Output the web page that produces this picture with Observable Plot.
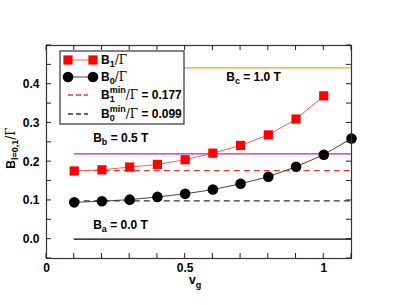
<!DOCTYPE html>
<html><head><meta charset="utf-8">
<script src="https://cdn.jsdelivr.net/npm/d3@7"></script>
<script src="https://cdn.jsdelivr.net/npm/@observablehq/plot@0.6"></script>
<style>body{margin:0;background:#fff}svg{font-family:"Liberation Sans",Arial,sans-serif}</style>
</head><body><div id="chart"></div>
<script>
const vg1 = [0.1,0.2,0.3,0.4,0.5,0.6,0.7,0.8,0.9,1.0];
const b1 = [0.176,0.179,0.186,0.193,0.205,0.222,0.242,0.269,0.310,0.370];
const vg0 = [0.1,0.2,0.3,0.4,0.5,0.6,0.7,0.8,0.9,1.0,1.1];
const b0 = [0.095,0.098,0.102,0.109,0.117,0.128,0.143,0.161,0.187,0.218,0.260];
const fieldNames = ["a","b","c"];
const fieldLabels = ["0.0 T","0.5 T","1.0 T"];
const fieldLevels = [0.0,0.220,0.442];
const fieldColors = ["#000000","#b020e8","#f5a623"];
const fieldLabelX = [0.17,0.17,0.65];
const fieldLabelY = [0.026,0.249,0.407];
const minLevels = [0.177,0.099];
const minColors = ["#ff3030","#333333"];
const lineStart = 0.1, lineEnd = 1.1;
const xTicks = [0,0.5,1];
const yTicks = [0,0.1,0.2,0.3,0.4];

const d1 = vg1.map((x,i)=>({x,y:b1[i]}));
const d0 = vg0.map((x,i)=>({x,y:b0[i]}));
const fields = fieldNames.map((n,i)=>({n,label:fieldLabels[i],y:fieldLevels[i],c:fieldColors[i],lx:fieldLabelX[i],ly:fieldLabelY[i]}));
const mins = minLevels.map((y,i)=>({y,c:minColors[i]}));

const W = 395, H = 305, mL = 46, mR = 44, mT = 45, mB = 47;
const xDom = [0,1.1], yDom = [-0.05,0.5];
const minorX = d3.range(0,1.1001,0.1);
const minorY = d3.range(-0.05,0.5001,0.05);
const T = 5;

const chart = Plot.plot({
  width:W, height:H,
  marginLeft:mL, marginRight:mR, marginTop:mT, marginBottom:mB,
  x:{domain:xDom}, y:{domain:yDom},
  style:{fontFamily:"Liberation Sans, Arial, sans-serif"},
  marks:[
    Plot.ruleY(fields,{y:"y",x1:lineStart,x2:lineEnd,stroke:"c",strokeWidth:1.3}),
    Plot.ruleY(mins,{y:"y",x1:lineStart,x2:lineEnd,stroke:"c",strokeWidth:1.3,strokeDasharray:"6,4"}),
    Plot.line(d1,{x:"x",y:"y",stroke:"#ff5a5a",strokeWidth:1}),
    Plot.dot(d1,{x:"x",y:"y",symbol:"square",r:5.2,fill:"#ff0000",stroke:"none"}),
    Plot.line(d0,{x:"x",y:"y",stroke:"#444",strokeWidth:1}),
    Plot.dot(d0,{x:"x",y:"y",r:5.3,fill:"#000",stroke:"none"}),
    Plot.axisX(xTicks,{anchor:"bottom",tickSize:0,tickPadding:5,tickFormat:d=>d===0?"0":String(d),fontSize:12,fontWeight:"bold",fill:"#000",label:null}),
    Plot.axisY(yTicks,{anchor:"left",tickSize:0,tickPadding:7,tickFormat:d3.format(".1f"),fontSize:12,fontWeight:"bold",fill:"#000",label:null}),
    Plot.frame({stroke:"#333",strokeWidth:1.2})
  ]
});
document.getElementById("chart").append(chart);

const svg = d3.select(chart);
const sx = chart.scale("x"), sy = chart.scale("y");
const X0 = sx.apply(xDom[0]), X1 = sx.apply(xDom[1]), Y0 = sy.apply(yDom[0]), Y1 = sy.apply(yDom[1]);

// inward ticks on all four sides, placed through the plot's scales
const tg = svg.append("g").attr("stroke","#222").attr("stroke-width",1);
minorX.forEach(v=>{
  const px = sx.apply(v);
  tg.append("line").attr("x1",px).attr("x2",px).attr("y1",Y0).attr("y2",Y0-T);
  tg.append("line").attr("x1",px).attr("x2",px).attr("y1",Y1).attr("y2",Y1+T);
});
minorY.forEach(v=>{
  const py = sy.apply(v);
  tg.append("line").attr("y1",py).attr("y2",py).attr("x1",X0).attr("x2",X0+T);
  tg.append("line").attr("y1",py).attr("y2",py).attr("x1",X1).attr("x2",X1-T);
});

// field labels
fields.forEach(f=>{
  const t = svg.append("text").attr("x",sx.apply(f.lx)).attr("y",sy.apply(f.ly)).attr("text-anchor","start")
    .attr("font-size",12).attr("font-weight","bold").attr("fill","#000");
  t.append("tspan").text("B");
  t.append("tspan").attr("font-size",9).attr("dy",3).text(f.n);
  t.append("tspan").attr("dy",-3).text(" = "+f.label);
});

// axis labels
const xl = svg.append("text").attr("x",189).attr("y",284).attr("text-anchor","start").attr("font-size",12).attr("font-weight","bold");
xl.append("tspan").text("v");
xl.append("tspan").attr("font-size",9).attr("dy",4).text("g");

const yl = svg.append("text").attr("transform","translate(15,148) rotate(-90)").attr("text-anchor","middle")
  .attr("font-size",12).attr("font-weight","bold");
yl.append("tspan").text("B");
yl.append("tspan").attr("font-size",9).attr("dy",3).text("l=0,1");
yl.append("tspan").attr("dy",-3).attr("font-family","DejaVu Serif").attr("font-weight","normal").text("/Γ");

// legend
const lg = svg.append("g");
lg.append("rect").attr("x",60).attr("y",51).attr("width",124).attr("height",73).attr("fill","#fff").attr("stroke","#333").attr("stroke-width",1.2);
lg.append("line").attr("x1",68).attr("x2",93).attr("y1",60).attr("y2",60).attr("stroke","#ff5a5a");
[68,93].forEach(x=>lg.append("rect").attr("x",x-4.6).attr("y",60-4.6).attr("width",9.2).attr("height",9.2).attr("fill","#f00"));
lg.append("line").attr("x1",68).attr("x2",93).attr("y1",77).attr("y2",77).attr("stroke","#444");
[68,93].forEach(x=>lg.append("circle").attr("cx",x).attr("cy",77).attr("r",5.3).attr("fill","#000"));
lg.append("line").attr("x1",68).attr("x2",88).attr("y1",95).attr("y2",95).attr("stroke",minColors[0]).attr("stroke-width",1.3).attr("stroke-dasharray","5,3");
lg.append("line").attr("x1",68).attr("x2",88).attr("y1",114).attr("y2",114).attr("stroke",minColors[1]).attr("stroke-width",1.3).attr("stroke-dasharray","5,3");
function legText(y, sub, sup, rest){
  const t = lg.append("text").attr("x",101).attr("y",y).attr("text-anchor","start").attr("font-size",12).attr("font-weight","bold");
  t.append("tspan").text("B");
  t.append("tspan").attr("font-size",9).attr("dy",3).text(sub);
  if(sup){
    t.append("tspan").attr("font-size",9).attr("dx",-5).attr("dy",-9).text(sup);
    t.append("tspan").attr("dy",6).attr("font-family","DejaVu Serif").attr("font-weight","normal").text("/Γ");
  } else {
    t.append("tspan").attr("dy",-3).attr("font-family","DejaVu Serif").attr("font-weight","normal").text("/Γ");
  }
  if(rest) t.append("tspan").text(rest);
}
legText(64,"1",null,null);
legText(81,"0",null,null);
legText(99,"1","min"," = "+minLevels[0].toFixed(3));
legText(118,"0","min"," = "+minLevels[1].toFixed(3));
</script></body></html>
